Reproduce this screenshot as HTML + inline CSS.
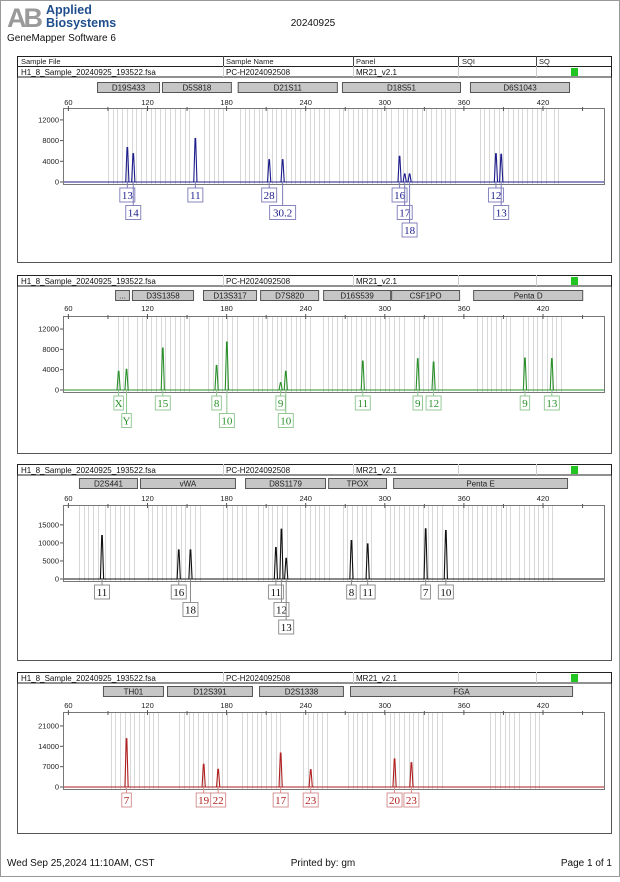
<!DOCTYPE html>
<html><head><meta charset="utf-8">
<style>
html,body{margin:0;padding:0;background:#fff;}
body{width:620px;height:877px;overflow:hidden;font-family:"Liberation Sans",sans-serif;}
svg text.sans{font-family:"Liberation Sans",sans-serif;}
svg text.serif{font-family:"Liberation Serif",serif;}
</style></head>
<body>
<svg id="page" width="620" height="877" viewBox="0 0 620 877" xmlns="http://www.w3.org/2000/svg" font-family="Liberation Sans, sans-serif">
  <rect x="0.5" y="0.5" width="619" height="876" fill="#fff" stroke="#999"/>
  <g>
    <text x="7" y="27" font-size="27" font-weight="bold" fill="#9a9a9a" letter-spacing="-3">AB</text>
    <text x="46" y="14" font-size="12.5" font-weight="bold" fill="#1f4e8c">Applied</text>
    <text x="46" y="27" font-size="12.5" font-weight="bold" fill="#1f4e8c">Biosystems</text>
  </g>
  <text x="7" y="41" font-size="10" fill="#111">GeneMapper Software 6</text>
  <text x="313" y="26" font-size="10" fill="#111" text-anchor="middle">20240925</text>
  <g>
    <rect x="17.5" y="56.5" width="594" height="10" fill="#fff" stroke="#222"/>
    <text x="21" y="64" font-size="7.5" fill="#222">Sample File</text>
    <text x="226" y="64" font-size="7.5" fill="#222">Sample Name</text>
    <text x="356" y="64" font-size="7.5" fill="#222">Panel</text>
    <text x="462" y="64" font-size="7.5" fill="#222">SQI</text>
    <text x="539" y="64" font-size="7.5" fill="#222">SQ</text>
    <line x1="223.5" y1="56" x2="223.5" y2="66" stroke="#444"/>
    <line x1="353.5" y1="56" x2="353.5" y2="66" stroke="#444"/>
    <line x1="458.5" y1="56" x2="458.5" y2="66" stroke="#444"/>
    <line x1="536.5" y1="56" x2="536.5" y2="66" stroke="#444"/>
  </g>
  <g id="panels"></g>
  <text x="7" y="866" font-size="10" fill="#111">Wed Sep 25,2024 11:10AM, CST</text>
  <text x="323" y="866" font-size="10" fill="#111" text-anchor="middle">Printed by: gm</text>
  <text x="612" y="866" font-size="10" fill="#111" text-anchor="end">Page 1 of 1</text>
</svg>
<script>
// ---- shared axis data ----
const xTickLabels = [60, 120, 180, 240, 300, 360, 420];
const xMinorTicks = [90, 150, 210, 270, 330, 390, 450];

// ---- panel 1 (blue) ----
const p1Loci = ["D19S433", "D5S818", "D21S11", "D18S51", "D6S1043"];
const p1LociStart = [81.7, 131, 188.4, 267.5, 364.6];
const p1LociEnd = [129.5, 184, 264.4, 357.8, 440.5];
const p1Sizes = [104.7, 109.2, 156.3, 212.3, 222.5, 311.2, 315.1, 318.8, 384.3, 388.3];
const p1Heights = [6650, 5480, 8390, 4320, 4320, 4970, 1550, 1550, 5480, 5350];
const p1Alleles = ["13", "14", "11", "28", "30.2", "16", "17", "18", "12", "13"];
const p1Rows = [1, 2, 1, 1, 2, 1, 2, 3, 1, 2];
const p1YTicks = [0, 4000, 8000, 12000];

// ---- panel 2 (green) ----
const p2Loci = ["...", "D3S1358", "D13S317", "D7S820", "D16S539", "CSF1PO", "Penta D"];
const p2LociStart = [95.4, 108.2, 162.1, 205.4, 253.2, 304.8, 367];
const p2LociEnd = [106.7, 155.3, 203.1, 250.2, 304.8, 357.1, 450.5];
const p2Sizes = [98.1, 104.1, 131.6, 172.4, 180.2, 221.0, 224.9, 283.3, 325.0, 337.0, 406.3, 426.7];
const p2Heights = [3670, 4070, 8260, 4850, 9440, 1440, 3670, 5700, 6160, 5510, 6300, 6160];
const p2Alleles = ["X", "Y", "15", "8", "10", "9", "10", "11", "9", "12", "9", "13"];
const p2Rows = [1, 2, 1, 1, 2, 1, 2, 1, 1, 1, 1, 1];
const p2YTicks = [0, 4000, 8000, 12000];

// ---- panel 3 (black) ----
const p3Loci = ["D2S441", "vWA", "D8S1179", "TPOX", "Penta E"];
const p3LociStart = [68, 114.3, 194, 257, 306.3];
const p3LociEnd = [112.8, 187.1, 255.4, 301.7, 439];
const p3Sizes = [85.5, 143.7, 152.6, 217.4, 221.6, 225.2, 274.7, 287.0, 331.0, 346.3];
const p3Heights = [12040, 8060, 8060, 8700, 13800, 5740, 10650, 9720, 13900, 13430];
const p3Alleles = ["11", "16", "18", "11", "12", "13", "8", "11", "7", "10"];
const p3Rows = [1, 1, 2, 1, 2, 3, 1, 1, 1, 1];
const p3YTicks = [0, 5000, 10000, 15000];

// ---- panel 4 (red) ----
const p4Loci = ["TH01", "D12S391", "D2S1338", "FGA"];
const p4LociStart = [86.2, 134.8, 204.6, 273.6];
const p4LociEnd = [132.5, 200, 269, 442.8];
const p4Sizes = [104.1, 162.6, 173.6, 221.0, 243.8, 307.4, 320.2];
const p4Heights = [16640, 7800, 6080, 11700, 5970, 9640, 8380];
const p4Alleles = ["7", "19", "22", "17", "23", "20", "23"];
const p4Rows = [1, 1, 1, 1, 1, 1, 1];
const p4YTicks = [0, 7000, 14000, 21000];

// ---- layout (not data) ----
const NS = "http://www.w3.org/2000/svg";
const PLOT_L = 63, PLOT_R = 604;
function xScale(bp) { return 68.4 + (bp - 60) * 79.1 / 60; }

const panelDefs = [
  {loci:p1Loci, ls:p1LociStart, le:p1LociEnd, sizes:p1Sizes, heights:p1Heights, alleles:p1Alleles, rows:p1Rows, yt:p1YTicks,
   top:66, bottom:262, bar:82, label:102, plotTop:108, zero:182, yMax:14300, color:"#1c1c8a", box:"#7a7ab8", bins:[[90,137],[141,155],[163,178],[190,205],[207,258],[265,306],[310,356],[372,424],[428,432]]},
  {loci:p2Loci, ls:p2LociStart, le:p2LociEnd, sizes:p2Sizes, heights:p2Heights, alleles:p2Alleles, rows:p2Rows, yt:p2YTicks,
   top:275, bottom:453, bar:290, label:308, plotTop:316, zero:390, yMax:14570, color:"#2a8f2a", box:"#8cc48c", bins:[[98,106],[112,154],[166,188],[200,244],[253,317],[322,344],[370,398],[405,434]]},
  {loci:p3Loci, ls:p3LociStart, le:p3LociEnd, sizes:p3Sizes, heights:p3Heights, alleles:p3Alleles, rows:p3Rows, yt:p3YTicks,
   top:464, bottom:660, bar:478, label:498, plotTop:505, zero:579, yMax:20500, color:"#111111", box:"#888888", bins:[[68,84],[88,112],[120,160],[177,198],[204,228],[236,260],[268,292],[300,345],[352,398],[402,430]]},
  {loci:p4Loci, ls:p4LociStart, le:p4LociEnd, sizes:p4Sizes, heights:p4Heights, alleles:p4Alleles, rows:p4Rows, yt:p4YTicks,
   top:672, bottom:833, bar:686, label:705, plotTop:712, zero:787, yMax:25800, color:"#b01e1e", box:"#d08a8a", bins:[[92,128],[144,180],[192,224],[238,256],[272,292],[300,346],[380,404],[410,418]]}
];

function mk(tag, attrs, parent, text) {
  const el = document.createElementNS(NS, tag);
  for (const k in attrs) el.setAttribute(k, attrs[k]);
  if (text !== undefined) el.textContent = text;
  parent.appendChild(el);
  return el;
}

const root = document.getElementById("panels");
panelDefs.forEach((p, pi) => {
  const g = mk("g", {}, root);
  
  
  const yScale = v => p.zero - v / p.yMax * (p.zero - p.plotTop);
  const plotBottom = p.zero + 2;

  const fr = mk("rect", {x:17.5, y:p.top + 0.5, width:594, height:p.bottom - p.top, fill:"#fff", stroke:"#555"}, g);
  
  
  const hr = mk("g", {}, g);
  
  
  mk("rect", {x:17.5, y:p.top + 0.5, width:594, height:10.5, fill:"#fff", stroke:"#222"}, hr);
  mk("text", {x:21, y:p.top + 9, "font-size":8, fill:"#111"}, hr, "H1_8_Sample_20240925_193522.fsa");
  mk("text", {x:226, y:p.top + 9, "font-size":8, fill:"#111"}, hr, "PC-H2024092508");
  mk("text", {x:356, y:p.top + 9, "font-size":8, fill:"#111"}, hr, "MR21_v2.1");
  [223.5, 353.5, 458.5, 536.5].forEach(x => mk("line", {x1:x, y1:p.top, x2:x, y2:p.top + 11, stroke:"#ccc"}, hr));
  const sq = mk("rect", {x:571, y:p.top + 2, width:7, height:8, fill:"#22c422"}, hr);
  
  

  p.loci.forEach((name, i) => {
    const x1 = xScale(p.ls[i]), x2 = xScale(p.le[i]);
    const lg = mk("g", {}, g);
    
    
    mk("rect", {x:x1 + 0.5, y:p.bar + 0.5, width:x2 - x1 - 1, height:10, fill:"#c6c6c6", stroke:"#555"}, lg);
    mk("text", {x:(x1 + x2) / 2, y:p.bar + 8.5, "font-size":8, fill:"#222", "text-anchor":"middle"}, lg, name);
  });

  const pa = mk("rect", {x:PLOT_L + 0.5, y:p.plotTop + 0.5, width:PLOT_R - PLOT_L, height:plotBottom - p.plotTop, fill:"#fff", stroke:"#777"}, g);
  
  

  const bg = mk("g", {stroke:"#cfcfcf", "stroke-width":0.8}, g);
  
  
  p.bins.forEach(r => {
    for (let b = r[0]; b <= r[1]; b += 3.6) {
      const x = Math.round(xScale(b)) + 0.5;
      mk("line", {x1:x, y1:p.plotTop + 1, x2:x, y2:plotBottom}, bg);
    }
  });

  const xa = mk("g", {}, g);
  
  
  xTickLabels.forEach(t => {
    const x = xScale(t);
    mk("line", {x1:x, y1:p.plotTop - 2, x2:x, y2:p.plotTop + 3, stroke:"#555"}, xa);
    mk("text", {x:x, y:p.label + 3, "font-size":7.5, fill:"#222", "text-anchor":"middle"}, xa, String(t));
  });
  xMinorTicks.forEach(t => {
    const x = xScale(t);
    mk("line", {x1:x, y1:p.plotTop - 1, x2:x, y2:p.plotTop + 3, stroke:"#555"}, xa);
  });

  const ya = mk("g", {}, g);
  
  
  p.yt.forEach(t => {
    const y = yScale(t);
    mk("line", {x1:PLOT_L - 3, y1:y, x2:PLOT_L, y2:y, stroke:"#555"}, ya);
    mk("text", {x:PLOT_L - 4, y:y + 2.5, "font-size":7.5, fill:"#222", "text-anchor":"end"}, ya, String(t));
  });

  const bl = mk("line", {x1:PLOT_L + 1, y1:p.zero, x2:PLOT_R, y2:p.zero, stroke:p.color, "stroke-width":1.1}, g);
  
  

  p.sizes.forEach((s, i) => {
    const x = xScale(s), yt = yScale(p.heights[i]);
    const pk = mk("path", {d:`M${x - 1.6},${p.zero} L${x - 0.3},${yt} L${x + 0.3},${yt} L${x + 1.6},${p.zero}`,
      fill:"none", stroke:p.color, "stroke-width":1.1}, g);
    
    

    const row = p.rows[i];
    const by = p.zero + 6 + (row - 1) * 17.5;
    const w = p.alleles[i].length * 5.5 + 4;
    const lb = mk("g", {}, g);
    
    
    mk("line", {x1:x, y1:p.zero + 1, x2:x, y2:by, stroke:p.box, "stroke-width":1}, lb);
    mk("rect", {x:x - w / 2, y:by, width:w, height:14, fill:"#fff", stroke:p.box, "stroke-width":0.9}, lb);
    mk("text", {x:x, y:by + 11, "font-size":11, fill:p.color, "text-anchor":"middle",
      style:"font-family:'Liberation Serif',serif"}, lb, p.alleles[i]);
  });
});
</script>
</body></html>
